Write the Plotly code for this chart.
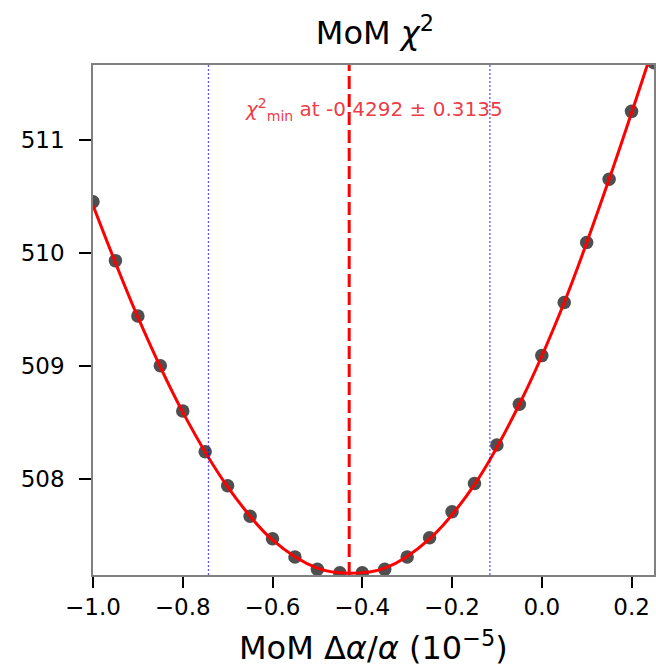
import plotly.graph_objects as go

# data points
delta_alpha = [-1.0, -0.95, -0.9, -0.85, -0.8, -0.75, -0.7, -0.65, -0.6, -0.55,
               -0.5, -0.45, -0.4, -0.35, -0.3, -0.25, -0.2, -0.15, -0.1, -0.05,
               0.0, 0.05, 0.1, 0.15, 0.2, 0.25]
chi2 = [510.45, 509.93, 509.44, 509.00, 508.60, 508.24, 507.94, 507.67, 507.47, 507.31,
        507.20, 507.17, 507.17, 507.20, 507.31, 507.48, 507.71, 507.96, 508.30, 508.66,
        509.09, 509.56, 510.09, 510.65, 511.25, 511.68]

# fitted curve
fit_x = [-1.0, -0.9, -0.8, -0.7, -0.6, -0.5, -0.4292, -0.35, -0.25, -0.15, -0.05,
         0.05, 0.15, 0.25]
fit_y = [510.42, 509.43, 508.59, 507.93, 507.46, 507.21, 507.165, 507.21, 507.47,
         507.95, 508.66, 509.56, 510.65, 511.84]

chi2_min_at = -0.4292
chi2_min_err = 0.3135

x_ticks = [-1.0, -0.8, -0.6, -0.4, -0.2, 0.0, 0.2]
x_tick_text = ["\u22121.0", "\u22120.8", "\u22120.6", "\u22120.4", "\u22120.2", "0.0", "0.2"]
y_ticks = [508, 509, 510, 511]
y_tick_text = ["508", "509", "510", "511"]

FONT = "DejaVu Sans"

fig = go.Figure()
fig.add_trace(go.Scatter(
    x=delta_alpha, y=chi2, mode="markers",
    marker=dict(size=13.5, color="rgba(35,35,35,0.8)", line=dict(width=0)),
    showlegend=False, hoverinfo="skip"))
fig.add_trace(go.Scatter(
    x=fit_x, y=fit_y, mode="lines",
    line=dict(color="#ff0000", width=3, shape="spline", smoothing=1.0),
    showlegend=False, hoverinfo="skip"))

# vertical lines
fig.add_shape(type="line", xref="x", yref="paper", x0=chi2_min_at, x1=chi2_min_at,
              y0=0, y1=1, line=dict(color="#ff0000", width=3, dash="13px,5px"))
for xv in (chi2_min_at - chi2_min_err, chi2_min_at + chi2_min_err):
    fig.add_shape(type="line", xref="x", yref="paper", x0=xv, x1=xv, y0=0, y1=1,
                  line=dict(color="rgba(0,0,230,0.65)", width=1.3, dash="2px,2px"))

fig.add_annotation(
    x=0.5, xref="paper", y=0.912, yref="paper", yanchor="middle", xanchor="center",
    text="<i>\u03c7</i><sup>2</sup><sub>min</sub> at %.4f \u00b1 %.4f" % (chi2_min_at, chi2_min_err),
    showarrow=False, font=dict(family=FONT, size=20, color="rgba(235,35,45,0.9)"))

# x-axis title as annotation for precise placement
fig.add_annotation(
    x=0.5, xref="paper", y=-0.14, yref="paper", yanchor="middle", xanchor="center",
    text="MoM \u0394<i>\u03b1</i>/<i>\u03b1</i> (10<sup>\u22125</sup>)",
    showarrow=False, font=dict(family=FONT, size=32, color="black"))

fig.update_layout(
    width=656, height=667,
    margin=dict(l=93, r=0, t=65, b=92),
    paper_bgcolor="white", plot_bgcolor="white",
    font=dict(family=FONT, color="black"),
    title=dict(text="MoM <i>\u03c7</i><sup>2</sup>", x=0.5715, xanchor="center",
               y=1 - 33 / 667, yref="container", yanchor="middle",
               font=dict(family=FONT, size=32, color="black")),
    xaxis=dict(range=[-1.0, 0.25], tickvals=x_ticks, ticktext=x_tick_text,
               ticks="outside", ticklen=11, tickwidth=2, tickcolor="black",
               tickfont=dict(family=FONT, size=23, color="black"),
               showline=True, linecolor="#808080", linewidth=1.5, mirror=True,
               showgrid=False, zeroline=False),
    yaxis=dict(range=[507.15, 511.66], tickvals=y_ticks, ticktext=y_tick_text,
               ticks="outside", ticklen=12, tickwidth=2, tickcolor="black",
               tickfont=dict(family=FONT, size=23, color="black"),
               ticklabelstandoff=10,
               showline=True, linecolor="#808080", linewidth=1.5, mirror=True,
               showgrid=False, zeroline=False),
)

fig.write_html("out.html")
